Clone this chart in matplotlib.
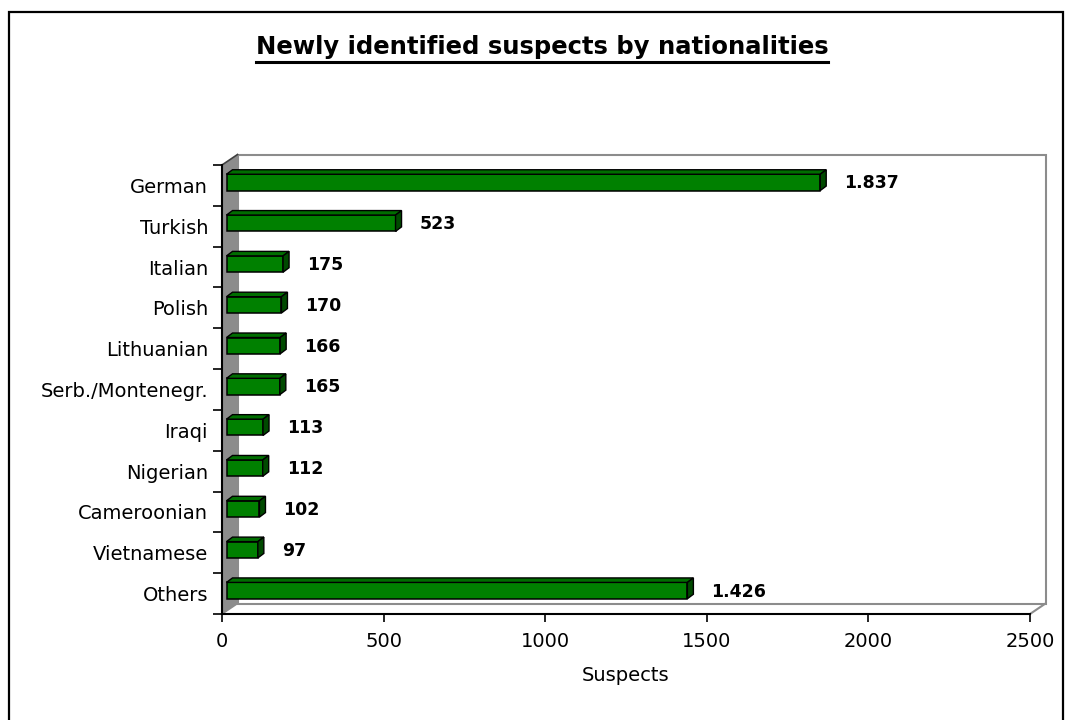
import numpy as np
import matplotlib
matplotlib.use("Agg")
import matplotlib.pyplot as plt
from matplotlib.patches import Polygon, Rectangle
from matplotlib.lines import Line2D
from matplotlib.transforms import offset_copy

# ---------------------------------------------------------------
# data
# ---------------------------------------------------------------
nationalities = ["German", "Turkish", "Italian", "Polish", "Lithuanian",
                 "Serb./Montenegr.", "Iraqi", "Nigerian", "Cameroonian",
                 "Vietnamese", "Others"]
suspects = [1837, 523, 175, 170, 166, 165, 113, 112, 102, 97, 1426]
value_labels = ["1.837", "523", "175", "170", "166", "165",
                "113", "112", "102", "97", "1.426"]

x_ticks = [0, 500, 1000, 1500, 2000, 2500]

# ---------------------------------------------------------------
# pseudo-3D look (pixel offsets, dpi = 100)
# ---------------------------------------------------------------
WALL_DX, WALL_DY = 15.5, 10.5     # depth of back wall / floor
BAR_DX, BAR_DY = 4.5, 3.0         # bar front face sits a bit inside
DEPTH_DX, DEPTH_DY = 6.0, 4.5     # bar thickness
BAR_H = 0.40

GREEN = "#008000"
GREEN_TOP = "#006e00"
GREEN_SIDE = "#004a00"
WALL_GRAY = "#8c8c8c"
EDGE_GRAY = "#8c8c8c"

plt.rcParams["font.family"] = ["DejaVu Sans"]

fig = plt.figure(figsize=(10.72, 7.2), dpi=100)
W, H = 1072, 720
ax = fig.add_axes([222 / W, (H - 614) / H, 808 / W, (614 - 165) / H])
ax.set_xlim(0, 2500)
ax.set_ylim(len(nationalities) - 0.5, -0.5)
ax.patch.set_visible(False)


def shifted(base, dx, dy):
    return offset_copy(base, fig=fig, x=dx, y=dy, units="dots")


# outer frame
fig.add_artist(Rectangle((9 / W, -0.05), (1063 - 9) / W, (H - 12) / H + 0.05,
                         transform=fig.transFigure, fill=False,
                         edgecolor="black", lw=1.6))

# back wall
back = shifted(ax.transAxes, WALL_DX, WALL_DY)
ax.add_patch(Rectangle((0, 0), 1, 1, transform=back, facecolor="white",
                       edgecolor=EDGE_GRAY, lw=1.5, zorder=0.5,
                       clip_on=False))

# left wall (gray side panel)
pts = np.array([[0, 0], [0, 1]])
fwd = ax.transAxes.transform(pts)
bwd = back.transform(pts)
wall = np.vstack([fwd[0], fwd[1], bwd[1], bwd[0]])
ax.add_patch(Polygon(wall, closed=True, transform=None,
                     facecolor=WALL_GRAY, edgecolor="none", zorder=0.6,
                     clip_on=False))
ax.add_line(Line2D([fwd[1][0], bwd[1][0]], [fwd[1][1], bwd[1][1]],
                   transform=None, color="#404040", lw=1.2, zorder=0.7,
                   clip_on=False))
ax.add_line(Line2D([fwd[0][0], bwd[0][0]], [fwd[0][1], bwd[0][1]],
                   transform=None, color=EDGE_GRAY, lw=1.2, zorder=0.7,
                   clip_on=False))

# floor edge on the right
pts = np.array([[1, 0]])
f1 = ax.transAxes.transform(pts)[0]
b1 = back.transform(pts)[0]
ax.add_line(Line2D([f1[0], b1[0]], [f1[1], b1[1]], transform=None,
                   color=EDGE_GRAY, lw=1.5, zorder=0.7, clip_on=False))

# bars: front, top and side faces
front = shifted(ax.transData, BAR_DX, BAR_DY)
y = np.arange(len(nationalities))
bars = ax.barh(y, suspects, height=BAR_H, color=GREEN, edgecolor="black",
               lw=1.1, transform=front, zorder=3)
for b in bars:
    b.set_clip_on(False)
to_px = front.transform
for yi, v in zip(y, suspects):
    top0 = yi - BAR_H / 2
    bot0 = yi + BAR_H / 2
    p_tl, p_tr, p_br = to_px([(0, top0), (v, top0), (v, bot0)])
    d = np.array([DEPTH_DX, DEPTH_DY])
    top_face = np.array([p_tl, p_tr, p_tr + d, p_tl + d])
    side_face = np.array([p_tr, p_br, p_br + d, p_tr + d])
    ax.add_patch(Polygon(top_face, closed=True, transform=None,
                         facecolor=GREEN_TOP, edgecolor="black", lw=1.0,
                         zorder=3, clip_on=False))
    ax.add_patch(Polygon(side_face, closed=True, transform=None,
                         facecolor=GREEN_SIDE, edgecolor="black", lw=1.0,
                         zorder=3, clip_on=False))

# value labels
lab_tr = shifted(ax.transData, BAR_DX + 24, 2)
for yi, v, s in zip(y, suspects, value_labels):
    ax.text(v, yi, s, transform=lab_tr, ha="left", va="center",
            fontsize=12.5, fontweight="bold", color="black", zorder=4)

# axes, ticks
for side in ["top", "right"]:
    ax.spines[side].set_visible(False)
for side in ["left", "bottom"]:
    ax.spines[side].set_linewidth(1.5)
    ax.spines[side].set_zorder(2)

ax.set_yticks(np.arange(len(nationalities) + 1) - 0.5)
ax.set_yticklabels([])
ax.set_yticks(y, minor=True)
ax.set_yticklabels(nationalities, minor=True, fontsize=14)
ax.tick_params(axis="y", which="major", length=6.5, width=1.2,
               direction="out")
ax.tick_params(axis="y", which="minor", length=0, pad=10)

ax.set_xticks(x_ticks)
ax.set_xticklabels([str(t) for t in x_ticks], fontsize=14)
ax.tick_params(axis="x", length=6, width=1.2, direction="out", pad=7)
ax.set_xlabel("Suspects", fontsize=14, labelpad=11)

# title with underline
title = fig.text(542 / W, 1 - 47 / H, "Newly identified suspects by nationalities",
                 ha="center", va="center", fontsize=17.5, fontweight="bold")
fig.canvas.draw()
bb = title.get_window_extent(fig.canvas.get_renderer())
uy = (H - 62) / H
fig.add_artist(Line2D([bb.x0 / W, bb.x1 / W], [uy, uy],
                      transform=fig.transFigure, color="black", lw=2.2))

fig.savefig("out.png", dpi=100)
